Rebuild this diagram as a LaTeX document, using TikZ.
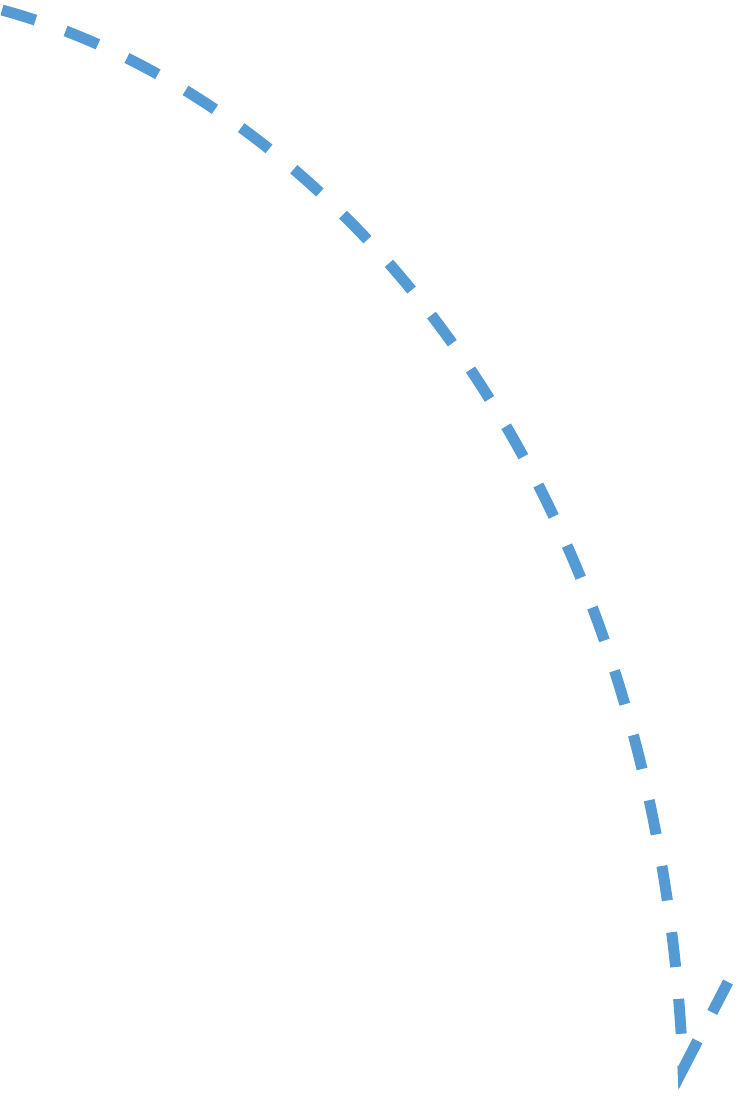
\documentclass[tikz,border=0pt]{standalone}
\usetikzlibrary{positioning}
\definecolor{arcblue}{RGB}{84,155,213}
\tikzset{
	bentarrow/.style={draw=arcblue, line width=11pt, dash pattern=on 35pt off 32pt, line join=miter, miter limit=20},
}

\begin{document}
\begin{tikzpicture}
		[x=1pt, y=-1pt]
		\useasboundingbox (0,0) rectangle (742,1096);
		\coordinate (start) at (2,10);
		\coordinate (tip) at (683,1069);
		\coordinate (barb) at (728,982);

		\draw[bentarrow] (start) .. controls (330,100) and (658,470) .. (tip) -- (barb);
	\end{tikzpicture}
\end{document}
